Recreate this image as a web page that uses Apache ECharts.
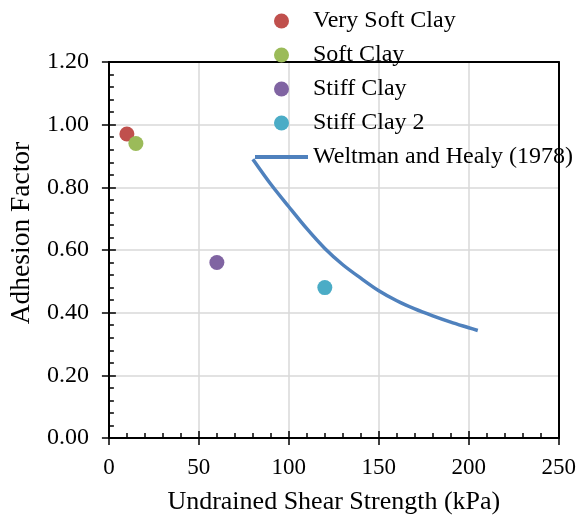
<!DOCTYPE html>
<html>
<head>
<meta charset="utf-8">
<script src="https://cdn.jsdelivr.net/npm/echarts@6/dist/echarts.min.js"></script>
<style>
  html, body { margin: 0; padding: 0; background: #fff; }
  #main { width: 579px; height: 521px; }
</style>
</head>
<body>
<div id="main"></div>
<script>
// data
var verySoftClay = [[10, 0.97]];
var softClay = [[15, 0.94]];
var stiffClay = [[60, 0.56]];
var stiffClay2 = [[120, 0.48]];
var weltmanX = [80, 90, 100, 110, 120, 130, 140, 150, 160, 170, 180, 190, 200, 205];
var weltmanY = [0.89, 0.81, 0.738, 0.668, 0.605, 0.553, 0.51, 0.47, 0.438, 0.412, 0.39, 0.37, 0.352, 0.343];

var font = 'Liberation Serif';
var chart = echarts.init(document.getElementById('main'));

function pairs(xs, ys) {
  var out = [];
  for (var i = 0; i < xs.length; i++) out.push([xs[i], ys[i]]);
  return out;
}

var gridLine = { show: true, lineStyle: { color: '#d9d9d9', width: 1.5 } };
var axisLine = { show: true, lineStyle: { color: '#000', width: 2 } };
var tickStyle = { color: '#000', width: 1.5 };

// plain frame line for the top and right sides
function frameAxis(pos, isX) {
  return {
    type: 'value', min: 0, max: isX ? 250 : 1.2, interval: isX ? 50 : 0.2, position: pos,
    axisLine: { show: true, onZero: false, lineStyle: { color: '#000', width: 2 } },
    axisTick: { show: false }, axisLabel: { show: false }, splitLine: { show: false }
  };
}

chart.setOption({
  animation: false,
  grid: { left: 107, right: 19, top: 62, bottom: 83 },
  legend: {
    orient: 'vertical',
    left: 255, top: 9, padding: 0,
    itemWidth: 53, itemHeight: 15, itemGap: 10,
    textStyle: { fontFamily: font, fontSize: 24, color: '#000' },
    data: ['Very Soft Clay', 'Soft Clay', 'Stiff Clay', 'Stiff Clay 2',
      { name: 'Weltman and Healy (1978)', icon: 'path://M0,0 L53,0 L53,4 L0,4 Z' }]
  },
  xAxis: [
    {
      type: 'value', min: 0, max: 250, interval: 50, position: 'bottom',
      name: 'Undrained Shear Strength (kPa)', nameLocation: 'middle', nameGap: 51,
      nameTextStyle: { fontFamily: font, fontSize: 26, color: '#000' },
      axisLine: axisLine,
      axisTick: { show: true, inside: false, length: 7, lineStyle: tickStyle },
      axisLabel: { fontFamily: font, fontSize: 23, color: '#000', margin: 18 },
      splitLine: gridLine
    },
    {
      type: 'value', min: 0, max: 250, interval: 50, position: 'bottom',
      axisLine: { show: false },
      axisTick: { show: true, inside: true, length: 7, lineStyle: tickStyle },
      minorTick: { show: true, splitNumber: 5, length: 5, lineStyle: tickStyle },
      axisLabel: { show: false },
      splitLine: { show: false }
    },
    frameAxis('top', true)
  ],
  yAxis: [
    {
      type: 'value', min: 0, max: 1.2, interval: 0.2, position: 'left',
      name: 'Adhesion Factor', nameLocation: 'middle', nameGap: 72,
      nameTextStyle: { fontFamily: font, fontSize: 27.5, color: '#000', padding: [0, 0, 0, 34] },
      axisLine: axisLine,
      axisTick: { show: true, inside: false, length: 7, lineStyle: tickStyle },
      axisLabel: {
        fontFamily: font, fontSize: 24, color: '#000', margin: 20,
        formatter: function (v) { return v.toFixed(2); }
      },
      splitLine: gridLine
    },
    {
      type: 'value', min: 0, max: 1.2, interval: 0.2, position: 'left',
      axisLine: { show: false },
      axisTick: { show: true, inside: true, length: 7, lineStyle: tickStyle },
      minorTick: { show: true, splitNumber: 5, length: 5, lineStyle: tickStyle },
      axisLabel: { show: false },
      splitLine: { show: false }
    },
    frameAxis('right', false)
  ],
  series: [
    { name: 'Very Soft Clay', type: 'scatter', symbolSize: 15, itemStyle: { color: '#c0504d', opacity: 1 }, data: verySoftClay },
    { name: 'Soft Clay', type: 'scatter', symbolSize: 15, itemStyle: { color: '#9bbb59', opacity: 1 }, data: softClay },
    { name: 'Stiff Clay', type: 'scatter', symbolSize: 15, itemStyle: { color: '#8064a2', opacity: 1 }, data: stiffClay },
    { name: 'Stiff Clay 2', type: 'scatter', symbolSize: 15, itemStyle: { color: '#4bacc6', opacity: 1 }, data: stiffClay2 },
    {
      name: 'Weltman and Healy (1978)', type: 'line', showSymbol: false, symbol: 'none',
      smooth: 0.3,
      lineStyle: { color: '#4f81bd', width: 3.5 }, itemStyle: { color: '#4f81bd' },
      data: pairs(weltmanX, weltmanY)
    }
  ]
});
</script>
</body>
</html>
